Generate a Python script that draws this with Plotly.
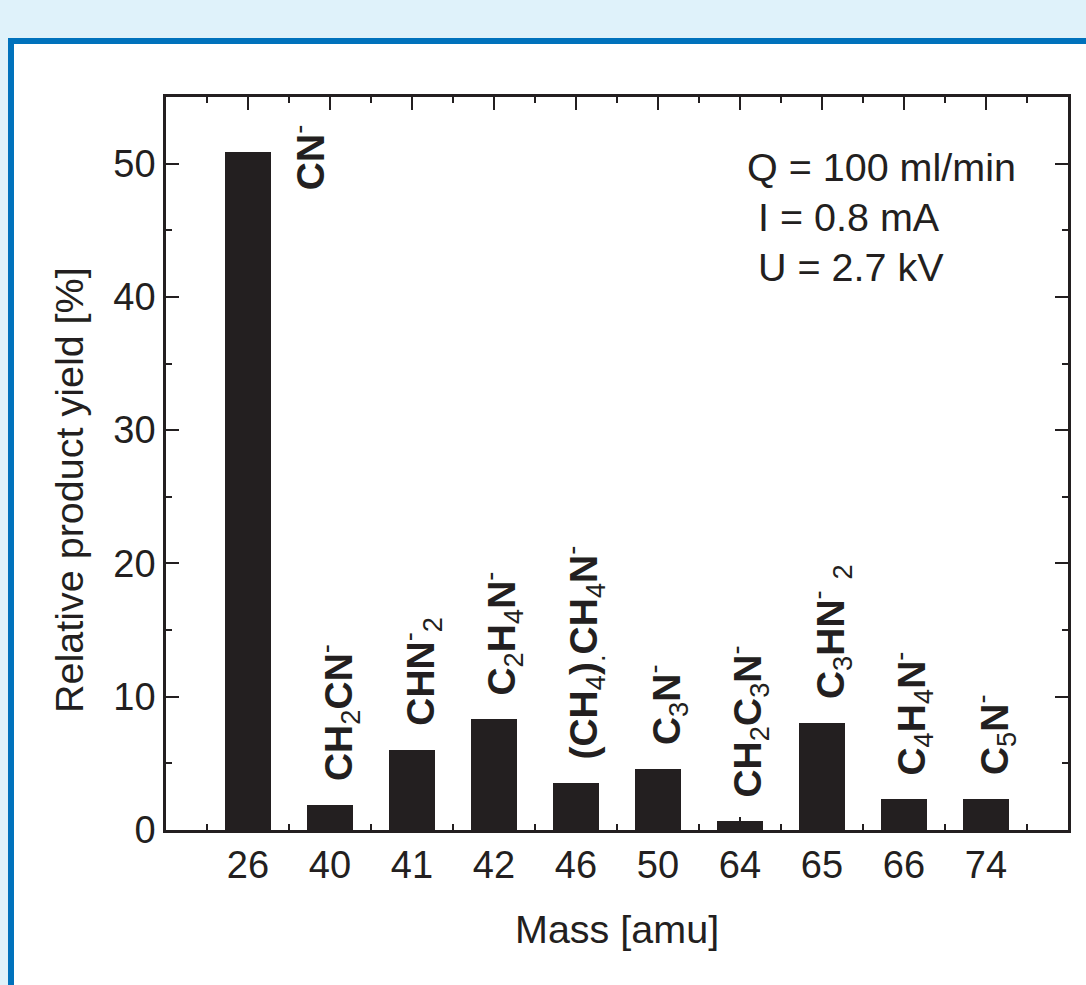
import plotly.graph_objects as go

# ---------------- data ----------------
masses = ["26", "40", "41", "42", "46", "50", "64", "65", "66", "74"]
yields = [50.9, 1.85, 6.0, 8.3, 3.5, 4.55, 0.65, 8.0, 2.3, 2.3]
species = [
    "<b>CN</b><sup>-</sup>",
    "<b>CH</b><sub>2</sub><b>CN</b><sup>-</sup>",
    "<b>CHN</b><sup>-</sup><sub>2</sub>",
    "<b>C</b><sub>2</sub><b>H</b><sub>4</sub><b>N</b><sup>-</sup>",
    "<b>(CH</b><sub>4</sub><b>)</b><sub>.</sub><b>CH</b><sub>4</sub><b>N</b><sup>-</sup>",
    "<b>C</b><sub>3</sub><b>N</b><sup>-</sup>",
    "<b>CH</b><sub>2</sub><b>C</b><sub>3</sub><b>N</b><sup>-</sup>",
    "<b>C</b><sub>3</sub><b>HN</b><sup>-</sup> <sub>2</sub>",
    "<b>C</b><sub>4</sub><b>H</b><sub>4</sub><b>N</b><sup>-</sup>",
    "<b>C</b><sub>5</sub><b>N</b><sup>-</sup>",
]
conditions = ["Q = 100 ml/min", "I = 0.8 mA", "U = 2.7 kV"]
x_title = "Mass [amu]"
y_title = "Relative product yield [%]"

# ---------------- layout geometry ----------------
W, H = 1086, 985
L, R, T, B = 166, 1068, 97, 830  # plot area in pixels
INK = "#231f20"
FONT = "Liberation Sans, Arial, Helvetica, sans-serif"


def px(xp):
    return (xp - L) / (R - L)


def py(yp):
    return (B - yp) / (B - T)


pos = list(range(len(masses)))

fig = go.Figure()
fig.add_trace(go.Bar(
    x=pos, y=yields, width=0.556,
    marker=dict(color=INK, line=dict(width=0)),
    showlegend=False, hoverinfo="skip",
))

axis_common = dict(
    showline=True, linewidth=2.5, linecolor=INK, mirror="ticks",
    ticks="inside", ticklen=13, tickwidth=2, tickcolor=INK,
    showgrid=False, zeroline=False,
    tickfont=dict(family=FONT, size=38, color=INK),
)

fig.update_xaxes(
    range=[-1, 10], tickmode="array", tickvals=pos, ticktext=masses,
    minor=dict(tickvals=[i - 0.5 for i in range(len(masses) + 1)],
               ticks="inside", ticklen=6, tickwidth=2, tickcolor=INK),
    **axis_common,
)
fig.update_yaxes(
    range=[0, 55], tickmode="array", tickvals=[0, 10, 20, 30, 40, 50],
    minor=dict(tickvals=[5, 15, 25, 35, 45, 55],
               ticks="inside", ticklen=6, tickwidth=2, tickcolor=INK),
    **axis_common,
)

annotations = []
# species labels
for i, (v, s) in enumerate(zip(yields, species)):
    if v > 40:
        # tall bar: label sits beside the bar, just below its top
        annotations.append(dict(
            x=i + 0.72, y=v, xref="x", yref="y", text=s, textangle=-90,
            showarrow=False, xanchor="center", yanchor="bottom", yshift=-41,
            font=dict(family=FONT, size=39, color=INK),
        ))
    else:
        annotations.append(dict(
            x=i + 0.1, y=v, xref="x", yref="y", text=s, textangle=-90,
            showarrow=False, xanchor="center", yanchor="bottom", yshift=22,
            font=dict(family=FONT, size=39, color=INK),
        ))

# condition text
cond_y = [167, 217, 267]
cond_x = [745, 756, 756]
for t, xx, yy in zip(conditions, cond_x, cond_y):
    annotations.append(dict(
        x=px(xx), y=py(yy), xref="paper", yref="paper", text=t,
        showarrow=False, xanchor="left", yanchor="middle",
        font=dict(family=FONT, size=39.5, color=INK),
    ))

# axis titles
annotations.append(dict(
    x=0.5, y=py(929), xref="paper", yref="paper", text=x_title,
    showarrow=False, xanchor="center", yanchor="middle",
    font=dict(family=FONT, size=39.5, color=INK),
))
annotations.append(dict(
    x=px(69), y=py(490), xref="paper", yref="paper", text=y_title,
    textangle=-90, showarrow=False, xanchor="center", yanchor="middle",
    font=dict(family=FONT, size=39.5, color=INK),
))

# decorative frame (header band + blue borders)
shapes = [
    dict(type="rect", xref="paper", yref="paper", x0=px(0), x1=px(W), y0=py(0), y1=py(38),
         fillcolor="#dff2fa", line=dict(width=0), layer="below"),
    dict(type="rect", xref="paper", yref="paper", x0=px(0), x1=px(8), y0=py(0), y1=py(H),
         fillcolor="#dff2fa", line=dict(width=0), layer="below"),
    dict(type="rect", xref="paper", yref="paper", x0=px(8), x1=px(W), y0=py(38), y1=py(44),
         fillcolor="#0072bc", line=dict(width=0), layer="below"),
    dict(type="rect", xref="paper", yref="paper", x0=px(8), x1=px(14), y0=py(38), y1=py(H),
         fillcolor="#0072bc", line=dict(width=0), layer="below"),
]

fig.update_layout(
    width=W, height=H,
    margin=dict(l=L, r=W - R, t=T, b=H - B, pad=0),
    paper_bgcolor="white", plot_bgcolor="white",
    annotations=annotations, shapes=shapes,
    font=dict(family=FONT, color=INK),
    bargap=0,
)

fig.write_html(
    "out.html",
    config={"displayModeBar": False},
    post_script="document.body.style.margin='0';document.body.style.overflow='hidden';",
)
